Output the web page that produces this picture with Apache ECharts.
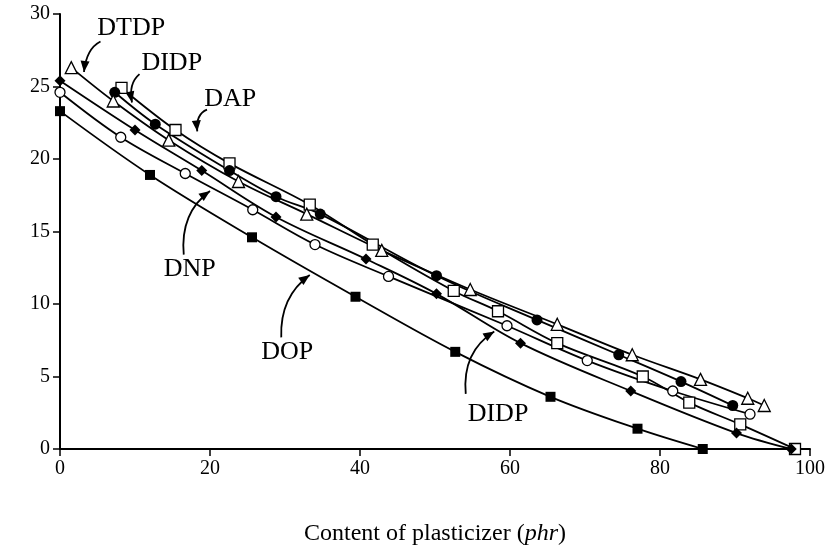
<!DOCTYPE html>
<html>
<head>
<meta charset="utf-8">
<script src="https://cdn.jsdelivr.net/npm/echarts@6/dist/echarts.min.js"></script>
<style>
  html, body { margin: 0; padding: 0; background: #fff; }
  #chart { width: 836px; height: 551px; }
</style>
</head>
<body>
<div id="chart"></div>
<script>
// Plasticizer content (phr) vs. response, one curve per plasticizer
const dopX = [0, 12.0, 25.6, 39.4, 52.7, 65.4, 77.0, 85.7];
const dopY = [23.3, 18.9, 14.6, 10.5, 6.7, 3.6, 1.4, 0];

const didpDiamondX = [0, 10.0, 18.9, 28.8, 40.8, 50.2, 61.4, 76.1, 90.2, 97.5];
const didpDiamondY = [25.4, 22.0, 19.2, 16.0, 13.1, 10.7, 7.3, 4.0, 1.1, 0];

const dnpX = [0, 8.1, 16.7, 25.7, 34.0, 43.8, 59.6, 70.3, 81.7, 92.0];
const dnpY = [24.6, 21.5, 19.0, 16.5, 14.1, 11.9, 8.5, 6.1, 4.0, 2.4];

const dapX = [8.2, 15.4, 22.6, 33.3, 41.7, 52.5, 58.4, 66.3, 77.7, 83.9, 90.7, 98.0];
const dapY = [24.9, 22.0, 19.7, 16.85, 14.1, 10.9, 9.5, 7.3, 5.0, 3.2, 1.7, 0];

const didpCircleX = [7.3, 12.7, 22.6, 28.8, 34.7, 50.2, 63.6, 74.5, 82.8, 89.7];
const didpCircleY = [24.6, 22.4, 19.2, 17.4, 16.2, 11.95, 8.9, 6.5, 4.65, 3.0];

const dtdpX = [1.5, 7.1, 14.5, 23.8, 32.9, 42.9, 54.7, 66.3, 76.3, 85.4, 91.7, 93.9];
const dtdpY = [26.3, 24.0, 21.3, 18.45, 16.2, 13.7, 11.0, 8.6, 6.5, 4.8, 3.5, 3.0];

const xTicks = [0, 20, 40, 60, 80, 100];
const yTicks = [0, 5, 10, 15, 20, 25, 30];

// Curve labels: text centre, arrow start, control point, arrow tip (data units)
const labelNames = ['DTDP', 'DIDP', 'DAP', 'DNP', 'DOP', 'DIDP'];
const labelText  = [[9.5, 29.0], [14.9, 26.6], [22.7, 24.1], [17.3, 12.4], [30.3, 6.7], [58.4, 2.4]];
const labelStart = [[5.4, 28.1], [10.6, 25.85], [19.6, 23.4], [16.5, 13.4], [29.5, 7.7], [54.1, 3.8]];
const labelCtrl  = [[3.5, 27.6], [9.1, 25.2], [18.1, 23.1], [16.0, 16.3], [29.3, 10.5], [53.6, 6.7]];
const labelTip   = [[3.2, 26.0], [9.6, 23.9], [18.3, 21.9], [20.0, 17.8], [33.3, 12.0], [57.9, 8.1]];

const FONT = '"Liberation Serif", "Times New Roman", serif';

function pairs(xs, ys) {
  return xs.map((x, i) => [x, ys[i]]);
}

function curve(name, xs, ys, symbol, size, filled) {
  return {
    name: name,
    type: 'line',
    data: pairs(xs, ys),
    smooth: 0.35,
    symbol: symbol,
    symbolSize: size,
    showAllSymbol: true,
    lineStyle: { color: '#000', width: 1.8 },
    itemStyle: {
      color: filled ? '#000' : '#fff',
      borderColor: '#000',
      borderWidth: filled ? 0 : 1.3
    },
    emphasis: { disabled: true },
    animation: false
  };
}

const chart = echarts.init(document.getElementById('chart'), null, { renderer: 'canvas' });

chart.setOption({
  backgroundColor: '#fff',
  animation: false,
  grid: { left: 60, right: 26, top: 14, bottom: 98, containLabel: false },
  xAxis: {
    type: 'value',
    min: xTicks[0],
    max: xTicks[xTicks.length - 1],
    interval: xTicks[1] - xTicks[0],
    axisLine: { lineStyle: { color: '#000', width: 2 } },
    axisTick: { inside: false, length: 7, lineStyle: { color: '#000', width: 1.5 } },
    axisLabel: { color: '#000', fontFamily: FONT, fontSize: 20, margin: 10 },
    splitLine: { show: false },
    name: 'Content of plasticizer ({i|phr})',
    nameLocation: 'middle',
    nameGap: 73,
    nameTextStyle: {
      color: '#000', fontFamily: FONT, fontSize: 24,
      rich: { i: { fontStyle: 'italic', fontFamily: FONT, fontSize: 24, color: '#000' } }
    }
  },
  yAxis: {
    type: 'value',
    min: yTicks[0],
    max: yTicks[yTicks.length - 1],
    interval: yTicks[1] - yTicks[0],
    axisLine: { show: true, lineStyle: { color: '#000', width: 2 } },
    axisTick: { show: true, inside: false, length: 7, lineStyle: { color: '#000', width: 1.5 } },
    axisLabel: { color: '#000', fontFamily: FONT, fontSize: 20, margin: 10 },
    splitLine: { show: false }
  },
  series: [
    curve('DOP', dopX, dopY, 'rect', 10, true),
    curve('DNP', dnpX, dnpY, 'circle', 10, false),
    curve('DAP', dapX, dapY, 'rect', 11, false),
    curve('DIDP', didpCircleX, didpCircleY, 'circle', 11, true),
    curve('DTDP', dtdpX, dtdpY, 'triangle', 12, false),
    curve('DIDP (2)', didpDiamondX, didpDiamondY, 'diamond', 11, true)
  ]
});

// Curve labels with curved pointer arrows
const graphics = [];
labelNames.forEach((txt, i) => {
  const t = chart.convertToPixel({ gridIndex: 0 }, labelText[i]);
  const s = chart.convertToPixel({ gridIndex: 0 }, labelStart[i]);
  const c = chart.convertToPixel({ gridIndex: 0 }, labelCtrl[i]);
  const e = chart.convertToPixel({ gridIndex: 0 }, labelTip[i]);
  graphics.push({
    type: 'text',
    x: t[0], y: t[1],
    style: {
      text: txt, font: '26px ' + FONT, fill: '#000',
      align: 'center', verticalAlign: 'middle',
      textAlign: 'center', textVerticalAlign: 'middle'
    },
    silent: true
  });
  graphics.push({
    type: 'bezierCurve',
    shape: { x1: s[0], y1: s[1], x2: e[0], y2: e[1], cpx1: c[0], cpy1: c[1] },
    style: { stroke: '#000', lineWidth: 1.8, fill: null },
    silent: true
  });
  let dx = e[0] - c[0], dy = e[1] - c[1];
  const len = Math.sqrt(dx * dx + dy * dy) || 1;
  dx /= len; dy /= len;
  const hl = 11, hw = 4.5;
  const bx = e[0] - dx * hl, by = e[1] - dy * hl;
  graphics.push({
    type: 'polygon',
    shape: { points: [[e[0], e[1]], [bx - dy * hw, by + dx * hw], [bx + dy * hw, by - dx * hw]] },
    style: { fill: '#000' },
    silent: true
  });
});
chart.setOption({ graphic: graphics });
</script>
</body>
</html>
